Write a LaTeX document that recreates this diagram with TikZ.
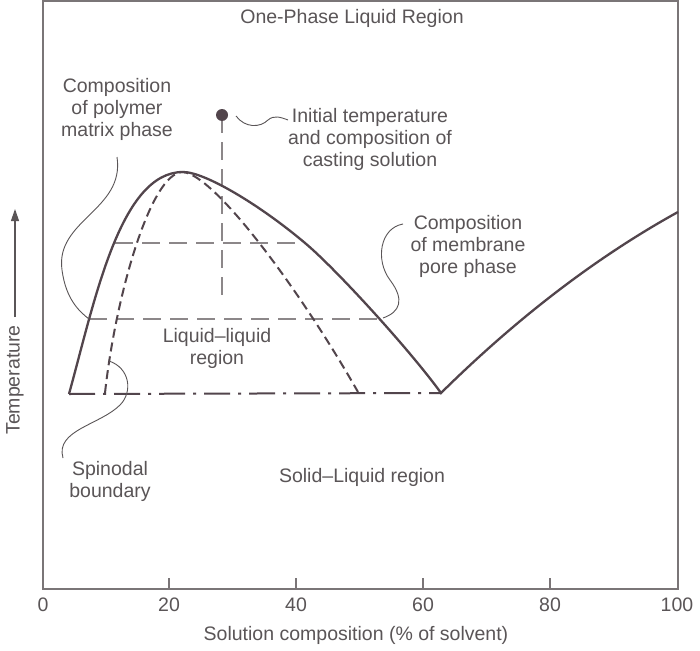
\documentclass[tikz,border=0pt]{standalone}
\usepackage{fontspec}
\setmainfont{Liberation Sans}
\usetikzlibrary{arrows.meta}
\definecolor{ink}{HTML}{52454C}
\definecolor{txt}{HTML}{5A5557}
\definecolor{tie}{HTML}{8C8789}
\definecolor{framec}{HTML}{7A7577}
\begin{document}
\begin{tikzpicture}[x=1pt,y=-1pt,
  lbl/.style={text=txt, font=\fontsize{19.5}{22}\selectfont, align=center, inner sep=0pt},
  curve/.style={draw=ink, line width=2.3pt},
  spin/.style={draw=ink, line width=2pt, dash pattern=on 9pt off 5pt},
  tieline/.style={draw=tie, line width=1.3pt, dash pattern=on 18pt off 9pt},
  leader/.style={draw=txt, line width=0.9pt},
  dashdot/.style={draw=ink, line width=2pt, dash pattern=on 26pt off 8pt on 3pt off 8pt}]
\useasboundingbox (0,0) rectangle (700,650);
\fill[white] (0,0) rectangle (700,650);
% frame
\draw[framec, line width=1.4pt] (43,1) rectangle (678,589);
% ticks
\foreach \xx in {169,296,423,550} \draw[framec, line width=1.4pt] (\xx,589) -- (\xx,578);
% tick labels
\node[lbl] (t0) at (43,605) {0};
\node[lbl] (t20) at (169,605) {20};
\node[lbl] (t40) at (296,605) {40};
\node[lbl] (t60) at (423,605) {60};
\node[lbl] (t80) at (550,605) {80};
\node[lbl] (t100) at (677,605) {100};
\node[lbl] (xlab) at (356,635) {Solution composition (\% of solvent)};
\node[lbl, rotate=90] (ylab) at (15,380) {Temperature};
\coordinate (ya) at (15,317);
\coordinate (yb) at (15,209);
\draw[txt, line width=1.2pt, -{Triangle[length=12pt,width=8pt]}] (ya) -- (yb);

% tie lines and vertical
\coordinate (dot) at (222,115);
\coordinate (vend) at (222,300);
\draw[tieline] (dot) -- (vend);
\coordinate (u1) at (115,243); \coordinate (u2) at (305,243);
\coordinate (l1) at (89,319); \coordinate (l2) at (380,319);
\draw[tieline] (u1) -- (u2);
\draw[tieline] (l1) -- (l2);

% binodal
\coordinate (b0) at (69,394);
\coordinate (pk) at (183,172);
\coordinate (e) at (441,393);
\coordinate (rt) at (678,212);
\draw[curve] (b0) .. controls (95,300) and (120,172) .. (pk)
  .. controls (205,172) and (260,205) .. (u2)
  .. controls (335,268) and (410,350) .. (e)
  .. controls (520,315) and (600,255) .. (rt);
% spinodal
\coordinate (s0) at (105,393);
\coordinate (s1) at (358,392);
\draw[spin] (s0) .. controls (115,300) and (150,172) .. (pk)
  .. controls (215,175) and (300,290) .. (s1);
% dash-dot
\draw[dashdot] (b0) -- (e);

% dot
\fill[ink] (dot) circle (6pt);

% labels
\node[lbl] (top) at (352,18) {One-Phase Liquid Region};
\node[lbl] (poly) at (117,109) {Composition\\of polymer\\matrix phase};
\node[lbl] (init) at (370,139) {Initial temperature\\and composition of\\casting solution};
\node[lbl] (memb) at (468,246) {Composition\\of membrane\\pore phase};
\node[lbl] (ll) at (217,348) {Liquid--liquid\\region};
\node[lbl] (spn) at (110,481) {Spinodal\\boundary};
\node[lbl] (sl) at (362,477) {Solid--Liquid region};

% leaders
\draw[leader] (236,116) .. controls (245,128) and (260,128) .. (268,120)
  .. controls (274,115) and (280,117) .. (288,120);
\draw[leader] (117,157) .. controls (125,210) and (55,220) .. (62,270)
  .. controls (66,300) and (80,312) .. (l1);
\draw[leader] (403,224) .. controls (380,228) and (375,260) .. (390,280)
  .. controls (405,300) and (400,312) .. (383,318);
\draw[leader] (63,458) .. controls (55,430) and (100,425) .. (120,405)
  .. controls (133,392) and (130,368) .. (109,361);
\end{tikzpicture}
\end{document}
